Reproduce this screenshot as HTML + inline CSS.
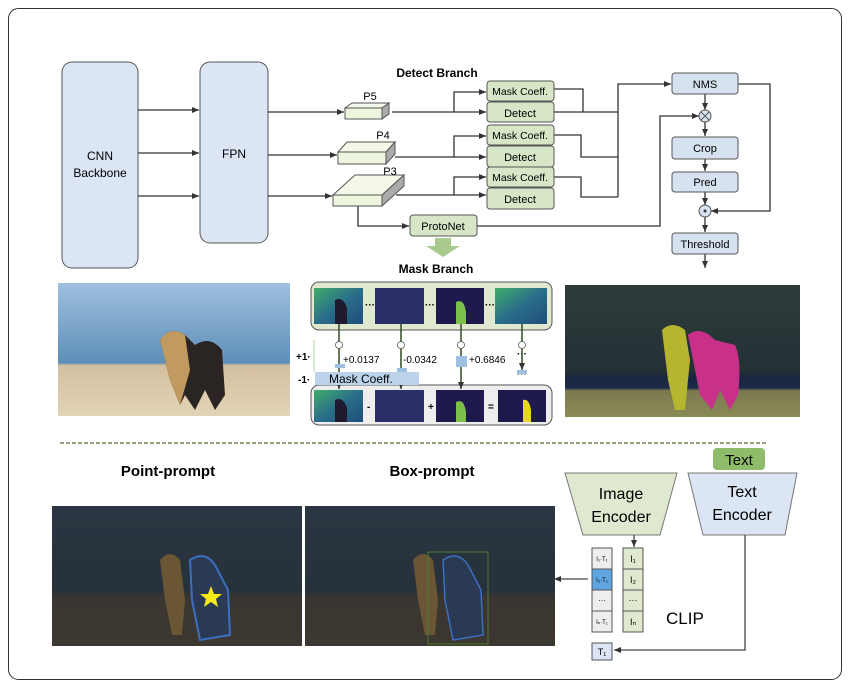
<!DOCTYPE html>
<html><head><meta charset="utf-8"><style>
body{margin:0;background:#fff;}
svg{display:block;font-family:"Liberation Sans",sans-serif;}
</style></head><body>
<svg width="850" height="690" viewBox="0 0 850 690" xmlns="http://www.w3.org/2000/svg">
<defs>
<marker id="a" markerWidth="8" markerHeight="8" refX="7" refY="4" orient="auto" markerUnits="userSpaceOnUse"><path d="M0,1 L7,4 L0,7z" fill="#333"/></marker>
<linearGradient id="sky" x1="0" y1="0" x2="0" y2="1"><stop offset="0" stop-color="#9fc0de"/><stop offset="0.6" stop-color="#5e8fb8"/><stop offset="0.62" stop-color="#d4c0a0"/><stop offset="1" stop-color="#e2d3b6"/></linearGradient>
<linearGradient id="dk" x1="0" y1="0" x2="0" y2="1"><stop offset="0" stop-color="#2b3642"/><stop offset="0.6" stop-color="#26313c"/><stop offset="0.65" stop-color="#3a3530"/><stop offset="1" stop-color="#3c3730"/></linearGradient>
<linearGradient id="seg" x1="0" y1="0" x2="0" y2="1"><stop offset="0" stop-color="#2f3a3a"/><stop offset="0.65" stop-color="#243236"/><stop offset="0.7" stop-color="#1a2540"/><stop offset="0.78" stop-color="#1c2a48"/><stop offset="0.8" stop-color="#7a7a50"/><stop offset="1" stop-color="#8a8a55"/></linearGradient>
<linearGradient id="vir" x1="0" y1="0" x2="1" y2="1"><stop offset="0" stop-color="#3fae6a"/><stop offset="0.5" stop-color="#2a6e8a"/><stop offset="1" stop-color="#1f4d7a"/></linearGradient>
</defs>
<rect x="8.5" y="8.5" width="833" height="671" rx="10" fill="#fff" stroke="#333" stroke-width="1"/>
<g stroke="#333" stroke-width="1.3" fill="none">
<!-- backbone -->
</g>
<rect x="62" y="62" width="76" height="206" rx="10" fill="#dbe5f3" stroke="#555"/>
<text x="100" y="160" font-size="12" text-anchor="middle">CNN</text>
<text x="100" y="177" font-size="12" text-anchor="middle">Backbone</text>
<rect x="200" y="62" width="68" height="181" rx="10" fill="#dbe5f3" stroke="#555"/>
<text x="234" y="158" font-size="12" text-anchor="middle">FPN</text>
<g stroke="#333" stroke-width="1.3" fill="none" marker-end="url(#a)">
<line x1="138" y1="110" x2="199" y2="110"/><line x1="138" y1="153" x2="199" y2="153"/><line x1="138" y1="196" x2="199" y2="196"/>
<line x1="268" y1="112" x2="344" y2="112"/><line x1="268" y1="155" x2="337" y2="155"/><line x1="268" y1="196" x2="332" y2="196"/>
<polyline points="392,112 454,112 454,92 486,92"/><line x1="454" y1="112" x2="486" y2="112"/>
<polyline points="395,157 454,157 454,136 486,136"/><line x1="454" y1="157" x2="486" y2="157"/>
<polyline points="396,195 454,195 454,177 486,177"/><line x1="454" y1="195" x2="486" y2="195"/>
<polyline points="358,206 358,226 409,226"/>
<polyline points="554,112 618,112 618,84 671,84"/>
<polyline points="477,226 660,226 660,116 699,116"/>
<polyline points="738,84 770,84 770,211 711,211"/>
<line x1="705" y1="94" x2="705" y2="110"/><line x1="705" y1="122" x2="705" y2="136"/><line x1="705" y1="159" x2="705" y2="171"/>
<line x1="705" y1="192" x2="705" y2="205"/><line x1="705" y1="217" x2="705" y2="232"/><line x1="705" y1="254" x2="705" y2="268"/>
</g>
<g stroke="#333" stroke-width="1.3" fill="none">
<polyline points="554,89 583,89 583,112"/><polyline points="554,135 581,135 581,157 618,157"/><polyline points="554,177 581,177 581,197 618,197"/>
<line x1="618" y1="112" x2="618" y2="197"/>
</g>
<!-- P blocks -->
<g stroke="#555" stroke-width="1">
<polygon points="345,108 352,103 389,103 382,108" fill="#f3f8e8"/><polygon points="382,108 389,103 389,114 382,119" fill="#aaa"/><rect x="345" y="108" width="37" height="11" fill="#eef5de"/>
<polygon points="338,152 347,142 395,142 386,152" fill="#f3f8e8"/><polygon points="386,152 395,142 395,154 386,164" fill="#aaa"/><rect x="338" y="152" width="48" height="12" fill="#eef5de"/>
<polygon points="333,195 355,175 404,175 382,195" fill="#f3f8e8"/><polygon points="382,195 404,175 404,186 382,206" fill="#aaa"/><rect x="333" y="195" width="49" height="11" fill="#eef5de"/>
</g>
<text x="370" y="100" font-size="11" text-anchor="middle">P5</text>
<text x="383" y="139" font-size="11" text-anchor="middle">P4</text>
<text x="390" y="175" font-size="11" text-anchor="middle">P3</text>
<text x="437" y="77" font-size="12" font-weight="bold" text-anchor="middle">Detect Branch</text>
<g stroke="#555" fill="#d6e6c6">
<rect x="487" y="81" width="67" height="20" rx="3"/><rect x="487" y="102" width="67" height="20" rx="3"/>
<rect x="487" y="125" width="67" height="20" rx="3"/><rect x="487" y="146" width="67" height="21" rx="3"/>
<rect x="487" y="167" width="67" height="20" rx="3"/><rect x="487" y="188" width="67" height="21" rx="3"/>
<rect x="410" y="215" width="67" height="21" rx="3"/>
</g>
<g font-size="11" text-anchor="middle">
<text x="520" y="95" font-size="10.5">Mask Coeff.</text><text x="520" y="117">Detect</text>
<text x="520" y="139" font-size="10.5">Mask Coeff.</text><text x="520" y="161">Detect</text>
<text x="520" y="181" font-size="10.5">Mask Coeff.</text><text x="520" y="203">Detect</text>
<text x="443" y="230">ProtoNet</text>
</g>
<g stroke="#555" fill="#d6e2f0">
<rect x="672" y="73" width="66" height="21" rx="3"/><rect x="672" y="137" width="66" height="22" rx="3"/>
<rect x="672" y="172" width="66" height="20" rx="3"/><rect x="672" y="233" width="66" height="21" rx="3"/>
<circle cx="705" cy="116" r="6"/><circle cx="705" cy="211" r="6"/>
</g>
<g stroke="#555"><line x1="701" y1="112" x2="709" y2="120"/><line x1="709" y1="112" x2="701" y2="120"/></g>
<circle cx="705" cy="211" r="1.5" fill="#333"/>
<g font-size="11" text-anchor="middle"><text x="705" y="88">NMS</text><text x="705" y="152">Crop</text><text x="705" y="186">Pred</text><text x="705" y="248">Threshold</text></g>
<polygon points="435,238 451,238 451,246 460,246 443,257 426,246 435,246" fill="#a9c98f"/>
<text x="436" y="273" font-size="12" font-weight="bold" text-anchor="middle">Mask Branch</text>
<!-- photos -->
<rect x="58" y="283" width="232" height="133" fill="url(#sky)"/>
<path d="M160,340 Q170,325 185,335 L195,345 Q210,335 222,350 L225,395 L215,410 L205,390 L195,410 L185,395 L180,405 L170,380 Z" fill="#2a2522"/>
<path d="M160,340 Q170,325 185,335 L190,370 L180,405 L170,380 Z" fill="#c09a60"/>
<rect x="565" y="285" width="235" height="132" fill="url(#seg)"/>
<path d="M662,330 Q672,320 685,330 L690,360 L685,410 L675,410 L668,380 Z" fill="#b5b530"/>
<path d="M688,335 Q700,325 715,340 L735,345 Q742,360 738,395 L730,410 L720,390 L712,410 L700,395 Z" fill="#c8308a"/>
<!-- mask branch -->
<rect x="311" y="282" width="241" height="48" rx="8" fill="#dfe9cf" stroke="#555"/>
<rect x="311" y="385" width="241" height="40" rx="8" fill="#eee" stroke="#555"/>
<g fill="url(#vir)">
<rect x="314" y="288" width="49" height="36"/><rect x="375" y="288" width="49" height="36" fill="#2a2f6a"/><rect x="436" y="288" width="48" height="36" fill="#1e1a4e"/><rect x="495" y="288" width="52" height="36"/>
<rect x="314" y="390" width="49" height="32"/><rect x="375" y="390" width="49" height="32" fill="#2a2f6a"/><rect x="436" y="390" width="48" height="32" fill="#1e1a4e"/><rect x="498" y="390" width="48" height="32" fill="#1e1a4e"/>
</g>
<path d="M335,300 q8,-4 12,8 l0,16 l-12,0z M335,400 q8,-4 12,8 l0,14 l-12,0z" fill="#1e1a30"/>
<path d="M456,302 q8,-4 10,10 l0,12 l-10,0z M456,402 q8,-4 10,10 l0,10 l-10,0z" fill="#7cc04a"/>
<path d="M523,400 q6,-2 8,10 l0,12 l-8,0z" fill="#e8d820"/>
<g font-size="10" font-weight="bold"><text x="365" y="308">···</text><text x="425" y="308">···</text><text x="485" y="308">···</text><text x="517" y="357">···</text><text x="517" y="377">···</text></g>
<g stroke="#2f4a20" stroke-width="1.5" marker-end="url(#a)"><line x1="339" y1="324" x2="339" y2="389"/><line x1="401" y1="324" x2="401" y2="389"/><line x1="461" y1="324" x2="461" y2="389"/><line x1="522" y1="324" x2="522" y2="370"/></g>
<g fill="#fff" stroke="#555" stroke-width="0.8"><circle cx="339" cy="345" r="3.5"/><circle cx="401" cy="345" r="3.5"/><circle cx="461" cy="345" r="3.5"/><circle cx="522" cy="345" r="3.5"/></g>
<rect x="315" y="372" width="104" height="13" fill="#bcd3ec"/>
<rect x="335" y="364" width="10" height="4" fill="#9fc0e0"/><rect x="397" y="368" width="10" height="4" fill="#9fc0e0"/><rect x="456" y="356" width="11" height="11" fill="#9fc0e0"/><rect x="517" y="370" width="10" height="4" fill="#9fc0e0"/>
<line x1="314" y1="340" x2="314" y2="372" stroke="#b5d3a0"/>
<g font-size="10"><text x="296" y="360" font-weight="bold">+1·</text><text x="298" y="383" font-weight="bold">-1·</text>
<text x="343" y="363">+0.0137</text><text x="403" y="363">-0.0342</text><text x="469" y="363">+0.6846</text>
<text x="329" y="383" font-size="12">Mask Coeff.</text>
<text x="367" y="410" font-weight="bold">-</text><text x="428" y="410" font-weight="bold">+</text><text x="488" y="410" font-weight="bold">=</text></g>
<line x1="60" y1="443" x2="768" y2="443" stroke="#4a6a30" stroke-dasharray="4,2" stroke-width="1.3"/>
<text x="168" y="476" font-size="15" font-weight="bold" text-anchor="middle">Point-prompt</text>
<text x="432" y="476" font-size="15" font-weight="bold" text-anchor="middle">Box-prompt</text>
<rect x="52" y="506" width="250" height="140" fill="url(#dk)"/>
<rect x="305" y="506" width="250" height="140" fill="url(#dk)"/>
<path d="M160,560 Q170,548 180,560 L185,600 L182,635 L172,635 L165,600Z" fill="#6a5535"/>
<path d="M190,560 Q205,550 215,565 L228,590 L230,635 L200,640 L192,600Z" fill="#2a3a55" stroke="#3d6fc0" stroke-width="2"/>
<polygon points="211,586 214,594 222,594 216,599 218,607 211,602 204,607 206,599 200,594 208,594" fill="#f7e81a"/>
<path d="M413,560 Q423,548 433,560 L438,600 L435,635 L425,635 L418,600Z" fill="#6a5535"/>
<path d="M443,560 Q458,550 468,565 L481,590 L483,635 L453,640 L445,600Z" fill="#2a3a55" stroke="#3d6fc0" stroke-width="1.5"/>
<rect x="428" y="552" width="60" height="92" fill="none" stroke="#4a7a30" stroke-width="1"/>
<!-- CLIP -->
<polygon points="565,473 677,473 660,535 583,535" fill="#dfe9cf" stroke="#777"/>
<text x="621" y="499" font-size="16" text-anchor="middle">Image</text><text x="621" y="522" font-size="16" text-anchor="middle">Encoder</text>
<rect x="713" y="448" width="52" height="22" rx="4" fill="#8fbc6a"/>
<text x="739" y="465" font-size="15" text-anchor="middle">Text</text>
<polygon points="688,473 797,473 785,535 703,535" fill="#dbe5f3" stroke="#777"/>
<text x="742" y="497" font-size="16" text-anchor="middle">Text</text><text x="742" y="520" font-size="16" text-anchor="middle">Encoder</text>
<g stroke="#444" stroke-width="1.3" fill="none" marker-end="url(#a)">
<line x1="634" y1="535" x2="634" y2="547"/><line x1="588" y1="579" x2="554" y2="579"/>
<polyline points="745,535 745,650 614,650"/></g>
<g stroke="#555" stroke-width="1">
<rect x="592" y="548" width="20" height="21" fill="#eee"/><rect x="592" y="569" width="20" height="21" fill="#5fa6e0"/><rect x="592" y="590" width="20" height="21" fill="#eee"/><rect x="592" y="611" width="20" height="21" fill="#eee"/>
<rect x="623" y="548" width="20" height="21" fill="#dfe9cf"/><rect x="623" y="569" width="20" height="21" fill="#dfe9cf"/><rect x="623" y="590" width="20" height="21" fill="#dfe9cf"/><rect x="623" y="611" width="20" height="21" fill="#dfe9cf"/>
<rect x="592" y="643" width="20" height="17" fill="#dbe5f3"/></g>
<g font-size="6" text-anchor="middle"><text x="602" y="561">I₁·T₁</text><text x="602" y="582">I₂·T₁</text><text x="602" y="603" font-size="8">···</text><text x="602" y="624">Iₙ·T₁</text></g>
<g font-size="9" text-anchor="middle"><text x="633" y="562">I₁</text><text x="633" y="583">I₂</text><text x="633" y="603">···</text><text x="633" y="625">Iₙ</text><text x="602" y="655">T₁</text></g>
<text x="666" y="624" font-size="17">CLIP</text>
</svg>
</body></html>
